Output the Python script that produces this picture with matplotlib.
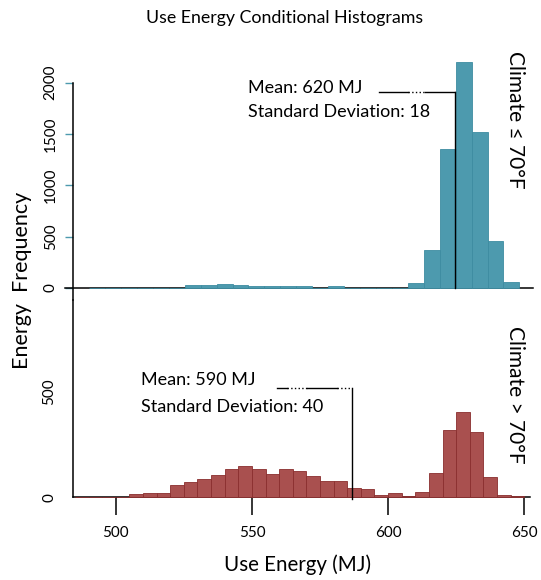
import numpy as np
import matplotlib
matplotlib.use("Agg")
import matplotlib.pyplot as plt

plt.rcParams['font.family'] = ['Lato', 'DejaVu Sans']

# cool climate histogram (27 bins between 490.2 and 648.2 MJ)
cool_lo, cool_hi = 490.2, 648.2
cool_counts = [0, 0, 0, 0, 0, 0, 25, 25, 35, 25, 20, 20, 20, 20, 0, 20,
               0, 0, 0, 0, 52, 370, 1350, 2198, 1522, 455, 58]
cool_mean_x = 624.6

# warm climate histogram (5 MJ bins from 485 to 650)
warm_edges = list(range(485, 655, 5))
warm_counts = [2, 1, 1, 1, 17, 22, 20, 58, 74, 88, 104, 133, 148, 133, 110,
               133, 123, 101, 77, 77, 46, 40, 12, 19, 8, 25, 117, 319, 404,
               311, 95, 12, 4]
warm_mean_x = 586.7

x_ticks = [500, 550, 600, 650]
cool_yticks = [0, 500, 1000, 1500, 2000]
warm_yticks = [0, 500]

teal = '#4d9aae'
teal_edge = '#3d8ca1'
red = '#a9504f'
red_edge = '#8a2e2e'

W, H = 541, 580
fig = plt.figure(figsize=(W / 100, H / 100), dpi=100)
xlim = (484.3, 653.2)

ax1 = fig.add_axes([73 / W, (H - 300) / H, 460 / W, 250 / H])
ax2 = fig.add_axes([73 / W, (H - 497.3) / H, 460 / W, 197.3 / H])

for ax in (ax1, ax2):
    ax.set_xlim(*xlim)
    for s in ax.spines.values():
        s.set_visible(False)
    ax.patch.set_alpha(0)

ax1.set_ylim(-116.8, 2317)
ax2.set_ylim(0, 933.7)

# top panel bars
cool_edges = np.linspace(cool_lo, cool_hi, len(cool_counts) + 1)
ax1.bar(cool_edges[:-1], cool_counts, width=np.diff(cool_edges), align='edge',
        color=teal, edgecolor=teal_edge, linewidth=0.6, zorder=3)
ax1.plot([xlim[0] - 3, xlim[1]], [0, 0], color='black', lw=1.1, clip_on=False, zorder=2)
ax1.plot([xlim[0], xlim[0]], [2000, -116.8], color='black', lw=1.1, clip_on=False)
ax1.set_xticks([])
ax1.set_yticks(cool_yticks)
ax1.set_yticklabels([str(v) for v in cool_yticks], rotation=90, va='center', fontsize=11)
ax1.tick_params(axis='y', length=6, width=1, color=teal, pad=5)

# bottom panel bars
ax2.bar(warm_edges[:-1], warm_counts, width=np.diff(warm_edges), align='edge',
        color=red, edgecolor=red_edge, linewidth=0.6, zorder=3, clip_on=False)
ax2.plot([xlim[0], xlim[1] - 1], [0, 0], color='black', lw=1.1, clip_on=False, zorder=2)
ax2.plot([xlim[0], xlim[0]], [933.7, 0], color='black', lw=1.1, clip_on=False)
ax2.set_yticks(warm_yticks)
ax2.set_yticklabels([str(v) for v in warm_yticks], rotation=90, va='center', fontsize=11)
ax2.tick_params(axis='y', length=0, pad=12)
ax2.set_xticks(x_ticks)
ax2.set_xticklabels([str(v) for v in x_ticks], fontsize=11)
ax2.tick_params(axis='x', length=13, width=1.1, color='black', pad=8, direction='out')

# mean annotations
ax1.plot([596.8, 607.3], [1905, 1905], color='black', lw=1)
ax1.plot([607.3, 613.5], [1905, 1905], color='black', lw=1, ls=':')
ax1.plot([613.5, cool_mean_x], [1905, 1905], color='black', lw=1)
ax1.plot([cool_mean_x, cool_mean_x], [1905, 0], color='black', lw=1, zorder=4)
ax1.text(548.7, 1944, 'Mean: 620 MJ', fontsize=13, va='center', ha='left')
ax1.text(548.7, 1717, 'Standard Deviation: 18', fontsize=13, va='center', ha='left')

ax2.plot([559.2, 562.9], [519, 519], color='black', lw=1)
ax2.plot([562.9, 570.2], [519, 519], color='black', lw=1, ls=':')
ax2.plot([570.2, 581.2], [519, 519], color='black', lw=1)
ax2.plot([581.2, warm_mean_x], [519, 519], color='black', lw=1, ls=':')
ax2.plot([warm_mean_x, warm_mean_x], [519, -8], color='black', lw=1, zorder=4, clip_on=False)
ax2.text(509.3, 555, 'Mean: 590 MJ', fontsize=13, va='center', ha='left')
ax2.text(509.3, 429, 'Standard Deviation: 40', fontsize=13, va='center', ha='left')

# strip labels and titles
fig.text(515 / W, (H - 120) / H, 'Climate ≤ 70°F', rotation=-90, fontsize=15,
         ha='center', va='center')
fig.text(515 / W, (H - 395) / H, 'Climate > 70°F', rotation=-90, fontsize=15,
         ha='center', va='center')
fig.text(285 / W, (H - 18) / H, 'Use Energy Conditional Histograms', fontsize=12.8,
         ha='center', va='center')
fig.text(297 / W, (H - 565) / H, 'Use Energy (MJ)', fontsize=14.8, ha='center', va='center')
fig.text(22 / W, (H - 280) / H, 'Energy  Frequency', rotation=90, fontsize=15.5,
         ha='center', va='center')

fig.savefig('out.png', dpi=100)
